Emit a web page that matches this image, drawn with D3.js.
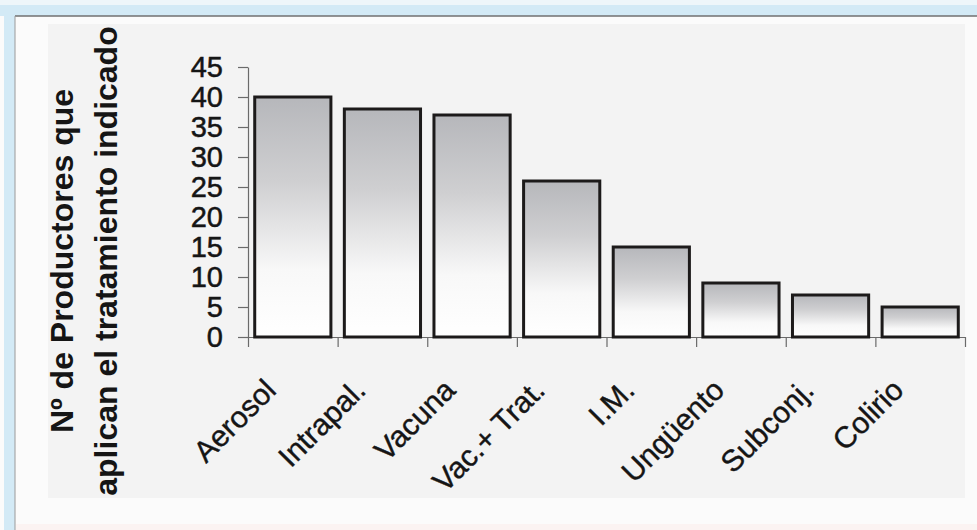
<!DOCTYPE html>
<html>
<head>
<meta charset="utf-8">
<script src="https://cdn.jsdelivr.net/npm/d3@7"></script>
<style>
  html, body { margin: 0; padding: 0; background: #fbfbfb; }
  svg { display: block; }
  text { font-family: "Liberation Sans", Arial, sans-serif; fill: #151515; }
</style>
</head>
<body>
<svg id="chart" width="977" height="530"></svg>
<script>
const categories = ["Aerosol", "Intrapal.", "Vacuna", "Vac.+ Trat.", "I.M.", "Ungüento", "Subconj.", "Colirio"];
const values = [40, 38, 37, 26, 15, 9, 7, 5];
const yTicks = [0, 5, 10, 15, 20, 25, 30, 35, 40, 45];
const yTitleLines = ["Nº de Productores que", "aplican el tratamiento indicado"];

const W = 977, H = 530;
const svg = d3.select("#chart");

// frame / background
svg.append("rect").attr("x", 0).attr("y", 0).attr("width", W).attr("height", H).attr("fill", "#fbfbfb");
svg.append("rect").attr("x", 0).attr("y", 0).attr("width", W).attr("height", 5).attr("fill", "#eef6fa");
svg.append("rect").attr("x", 0).attr("y", 5).attr("width", W).attr("height", 11).attr("fill", "#d3eaf6");
svg.append("rect").attr("x", 4).attr("y", 16).attr("width", 11).attr("height", H - 16).attr("fill", "#d3eaf6");
svg.append("rect").attr("x", 16).attr("y", 17).attr("width", W - 16).attr("height", H - 17).attr("fill", "#fbfbfb");
svg.append("rect").attr("x", 48).attr("y", 24).attr("width", 917).attr("height", 474).attr("fill", "#f3f3f3");
svg.append("rect").attr("x", 16).attr("y", 524).attr("width", W - 16).attr("height", 6).attr("fill", "#fbf3f2");
svg.append("line").attr("x1", 15).attr("x2", W).attr("y1", 16).attr("y2", 16).attr("stroke", "#707070").attr("stroke-width", 1.5);
svg.append("line").attr("x1", 15).attr("x2", 15).attr("y1", 16).attr("y2", H).attr("stroke", "#9a9a9a").attr("stroke-width", 1);

// gradient for bars
const defs = svg.append("defs");
const grad = defs.append("linearGradient").attr("id", "barGrad")
  .attr("x1", 0).attr("y1", 0).attr("x2", 0).attr("y2", 1);
grad.append("stop").attr("offset", "0%").attr("stop-color", "#b6b7bb");
grad.append("stop").attr("offset", "35%").attr("stop-color", "#cfcfd1");
grad.append("stop").attr("offset", "72%").attr("stop-color", "#f8f8f8");
grad.append("stop").attr("offset", "100%").attr("stop-color", "#ffffff");

// scales
const x0 = 248, x1 = 965, yBase = 337, yTop = 67;
const x = d3.scaleBand().domain(categories).range([x0, x1]).paddingInner(0.15).paddingOuter(0.075);
const y = d3.scaleLinear().domain([0, 45]).range([yBase, yTop]);
const xEdges = d3.scaleLinear().domain([0, categories.length]).range([x0, x1]);

// y axis
const yAxis = svg.append("g").attr("transform", `translate(${x0},0)`)
  .call(d3.axisLeft(y).tickValues(yTicks).tickSize(10).tickSizeOuter(0).tickPadding(15));
yAxis.select(".domain").attr("stroke", "#6a6a6a").attr("stroke-width", 1.2);
yAxis.selectAll(".tick line").attr("stroke", "#6a6a6a").attr("stroke-width", 1.2);
yAxis.selectAll(".tick text").attr("font-size", 29).attr("font-family", "Liberation Sans, Arial, sans-serif")
  .attr("fill", "#151515").attr("stroke", "#151515").attr("stroke-width", 0.5);

// x axis (boundary ticks)
const xAxis = svg.append("g").attr("transform", `translate(0,${yBase})`)
  .call(d3.axisBottom(xEdges).tickValues(d3.range(categories.length + 1)).tickSize(10).tickSizeOuter(0).tickFormat(""));
xAxis.select(".domain").attr("stroke", "#6a6a6a").attr("stroke-width", 1.2);
xAxis.selectAll(".tick line").attr("stroke", "#6a6a6a").attr("stroke-width", 1.2);

// bars
svg.append("g").selectAll("rect").data(values).join("rect")
  .attr("x", (d, i) => x(categories[i]))
  .attr("y", d => y(d))
  .attr("width", x.bandwidth())
  .attr("height", d => yBase - y(d))
  .attr("fill", "url(#barGrad)")
  .attr("stroke", "#1c1a1a")
  .attr("stroke-width", 3);

// category labels
svg.append("g").selectAll("text").data(categories).join("text")
  .attr("transform", d => `translate(${x(d) + x.bandwidth() / 2 - 15},${392}) rotate(-45)`)
  .attr("text-anchor", "end")
  .attr("font-size", 30)
  .attr("stroke", "#151515").attr("stroke-width", 0.4)
  .text(d => d);

// y title
const tg = svg.append("g");
[73, 117].forEach((bx, i) => {
  tg.append("text")
    .attr("transform", `translate(${bx},261) rotate(-90)`)
    .attr("text-anchor", "middle")
    .attr("font-size", 32)
    .attr("font-weight", "bold")
    .text(yTitleLines[i]);
});
</script>
</body>
</html>
